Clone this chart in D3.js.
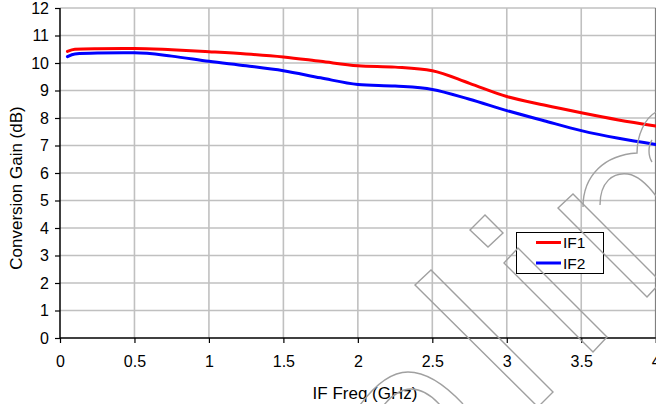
<!DOCTYPE html>
<html><head><meta charset="utf-8">
<script src="https://cdn.jsdelivr.net/npm/d3@7"></script>
<style>body{margin:0;background:#fff;}svg{display:block;font-family:"Liberation Sans",Arial,sans-serif;}</style>
</head><body><svg id="c" width="656" height="404"></svg>
<script>
const freq = [0.05,0.1,0.25,0.5,0.75,1.0,1.25,1.5,1.75,2.0,2.25,2.5,2.75,3.0,3.25,3.5,3.75,4.0];
const if1  = [10.42,10.5,10.52,10.53,10.48,10.41,10.33,10.22,10.06,9.9,9.85,9.72,9.26,8.78,8.47,8.19,7.93,7.71];
const if2  = [10.23,10.33,10.36,10.37,10.25,10.06,9.9,9.72,9.46,9.22,9.16,9.04,8.68,8.27,7.9,7.54,7.26,7.04];
const seriesNames = ["IF1","IF2"];
const seriesColors = ["#ff0000","#0000ff"];
const xTicks = [0,0.5,1,1.5,2,2.5,3,3.5,4];
const yTicks = [0,1,2,3,4,5,6,7,8,9,10,11,12];
const xTitle = "IF Freq (GHz)";
const yTitle = "Conversion Gain (dB)";

const svg = d3.select("#c");
const L=60, R=655.7, T=8, B=338;
const x = d3.scaleLinear().domain([0,4]).range([L,R]);
const y = d3.scaleLinear().domain([0,12]).range([B,T]);
const fs = 16, tfs = 17;

// grid
const g = svg.append("g");
g.selectAll(".hg").data(yTicks.filter(d=>d>0)).join("line")
  .attr("x1",L).attr("x2",R).attr("y1",d=>y(d)).attr("y2",d=>y(d))
  .attr("stroke","#c0c0c0").attr("stroke-width",1.6);
g.selectAll(".vg").data(xTicks.filter(d=>d>0)).join("line")
  .attr("y1",T).attr("y2",B).attr("x1",d=>x(d)).attr("x2",d=>x(d))
  .attr("stroke",d=>d===4?"#808080":"#c0c0c0").attr("stroke-width",1.6);

// axes
const xa = svg.append("g").attr("transform",`translate(0,${B})`)
  .call(d3.axisBottom(x).tickValues(xTicks).tickSize(5).tickPadding(12.5).tickFormat(d=>d));
const ya = svg.append("g").attr("transform",`translate(${L},0)`)
  .call(d3.axisLeft(y).tickValues(yTicks).tickSize(5).tickPadding(6).tickFormat(d=>d));
[xa,ya].forEach(a=>{
  a.select(".domain").attr("stroke","#000").attr("stroke-width",1.5);
  a.selectAll(".tick line").attr("stroke","#000").attr("stroke-width",1.2);
  a.selectAll("text").attr("font-size",fs).attr("fill","#000").attr("font-family","Liberation Sans, Arial, sans-serif");
});
xa.select(".domain").attr("d",`M${L},0H${R}`);
ya.select(".domain").attr("d",`M0,${B}V${T}`);

// lines
const line = d3.line().x(d=>x(d[0])).y(d=>y(d[1])).curve(d3.curveMonotoneX);
[if1,if2].forEach((s,i)=>{
  svg.append("path").datum(freq.map((f,j)=>[f,s[j]]))
    .attr("d",line).attr("fill","none").attr("stroke",seriesColors[i])
    .attr("stroke-width",3).attr("stroke-linejoin","round").attr("stroke-linecap","round");
});

// titles
svg.append("text").attr("x",365).attr("y",399).attr("text-anchor","middle")
  .attr("font-size",tfs).text(xTitle);
svg.append("text").attr("transform","translate(22,188) rotate(-90)").attr("text-anchor","middle")
  .attr("font-size",tfs).text(yTitle);

// legend
const lg = svg.append("g");
lg.append("rect").attr("x",516.5).attr("y",232.5).attr("width",87).attr("height",41)
  .attr("fill","#fff").attr("stroke","#000").attr("stroke-width",1);
seriesNames.forEach((n,i)=>{
  const yy = 242.5 + i*20.5;
  lg.append("line").attr("x1",536).attr("x2",561).attr("y1",yy).attr("y2",yy)
    .attr("stroke",seriesColors[i]).attr("stroke-width",3);
  lg.append("text").attr("x",563).attr("y",yy+5.5).attr("font-size",15.5).text(n);
});

// decorative watermark outlines
const wm = svg.append("g").attr("fill","none").attr("stroke","#a0a0a0").attr("stroke-width",1.4);
const polys = [
  [[415,285],[431,270],[553,392],[538,407]],
  [[504,263],[518,248],[607,337],[593,352]],
  [[558,208],[573,194],[661,282],[647,297]],
  [[470,230],[485,215],[503,233],[488,247]]
];
polys.forEach(p=>wm.append("path").attr("d","M"+p.map(q=>q.join(",")).join("L")+"Z"));
wm.append("path").attr("d","M583,207C583,175 605,155 637,153C637,135 645,118 656,112");
wm.append("path").attr("d","M600,205C600,182 613,172 628,174C640,176 650,188 656,196");
wm.append("path").attr("d","M652,140C648,146 648,156 652,162");
wm.append("path").attr("d","M360,405C375,385 392,372 408,372C428,372 448,388 463,404");
wm.append("path").attr("d","M384,405C392,395 401,389 411,389C422,389 432,396 440,405");
</script></body></html>
